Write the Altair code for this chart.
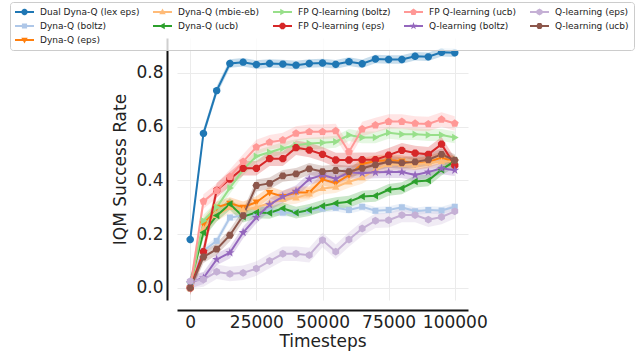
import math
import altair as alt
import pandas as pd

# ---------------- data ----------------
timesteps = [0, 5000, 10000, 15000, 20000, 25000, 30000, 35000, 40000, 45000, 50000,
             55000, 60000, 65000, 70000, 75000, 80000, 85000, 90000, 95000, 100000]

names = [
    "Dual Dyna-Q (lex eps)", "Dyna-Q (boltz)", "Dyna-Q (eps)", "Dyna-Q (mbie-eb)",
    "Dyna-Q (ucb)", "FP Q-learning (boltz)", "FP Q-learning (eps)", "FP Q-learning (ucb)",
    "Q-learning (boltz)", "Q-learning (eps)", "Q-learning (ucb)",
]

dual_dyna_q_lex_eps = [0.18, 0.575, 0.734, 0.835, 0.84, 0.831, 0.835, 0.833, 0.829, 0.835, 0.837,
                       0.832, 0.842, 0.834, 0.852, 0.85, 0.85, 0.862, 0.86, 0.877, 0.875]
dyna_q_boltz = [0.02, 0.138, 0.175, 0.262, 0.269, 0.275, 0.285, 0.28, 0.28, 0.288, 0.295,
                0.298, 0.29, 0.302, 0.287, 0.29, 0.30, 0.285, 0.29, 0.288, 0.302]
dyna_q_eps = [0.0, 0.237, 0.30, 0.315, 0.30, 0.319, 0.355, 0.34, 0.355, 0.355, 0.404,
              0.39, 0.42, 0.461, 0.472, 0.475, 0.472, 0.462, 0.469, 0.485, 0.469]
dyna_q_mbie_eb = [0.0, 0.22, 0.27, 0.30, 0.29, 0.30, 0.315, 0.33, 0.335, 0.35, 0.37,
                  0.375, 0.395, 0.41, 0.44, 0.46, 0.46, 0.46, 0.465, 0.47, 0.47]
dyna_q_ucb = [0.02, 0.206, 0.269, 0.312, 0.265, 0.281, 0.279, 0.296, 0.28, 0.29, 0.305,
              0.315, 0.321, 0.34, 0.343, 0.365, 0.371, 0.396, 0.40, 0.44, 0.472]
fp_q_boltz = [0.0, 0.25, 0.30, 0.372, 0.44, 0.49, 0.505, 0.52, 0.531, 0.537, 0.54,
              0.544, 0.569, 0.56, 0.56, 0.577, 0.572, 0.572, 0.569, 0.569, 0.56]
fp_q_eps = [0.0, 0.135, 0.363, 0.405, 0.445, 0.445, 0.481, 0.481, 0.522, 0.513, 0.497,
            0.476, 0.476, 0.477, 0.477, 0.494, 0.512, 0.502, 0.497, 0.535, 0.456]
fp_q_ucb = [0.0, 0.322, 0.362, 0.414, 0.47, 0.524, 0.542, 0.55, 0.575, 0.581, 0.581,
            0.584, 0.506, 0.591, 0.606, 0.619, 0.619, 0.612, 0.61, 0.627, 0.612]
q_boltz = [0.02, 0.037, 0.106, 0.131, 0.206, 0.262, 0.31, 0.34, 0.36, 0.405, 0.42,
           0.406, 0.43, 0.427, 0.43, 0.431, 0.431, 0.42, 0.431, 0.445, 0.438]
q_eps = [0.025, 0.031, 0.06, 0.052, 0.056, 0.072, 0.10, 0.127, 0.127, 0.122, 0.178,
         0.135, 0.18, 0.221, 0.25, 0.252, 0.271, 0.271, 0.254, 0.264, 0.285]
q_ucb = [0.0, 0.115, 0.144, 0.196, 0.269, 0.381, 0.389, 0.417, 0.424, 0.443, 0.433,
         0.437, 0.433, 0.445, 0.458, 0.469, 0.465, 0.469, 0.477, 0.497, 0.475]

series = [dual_dyna_q_lex_eps, dyna_q_boltz, dyna_q_eps, dyna_q_mbie_eb, dyna_q_ucb,
          fp_q_boltz, fp_q_eps, fp_q_ucb, q_boltz, q_eps, q_ucb]

# typical half-width of each shaded confidence band
band_halfwidth = [0.016, 0.014, 0.022, 0.022, 0.022, 0.022, 0.027, 0.027, 0.022, 0.027, 0.022]

colors = ["#1f77b4", "#aec7e8", "#ff7f0e", "#ffbb78", "#2ca02c", "#98df8a",
          "#d62728", "#ff9896", "#9467bd", "#c5b0d5", "#8c564b"]

x_ticks = [0, 25000, 50000, 75000, 100000]
y_ticks = [0.0, 0.2, 0.4, 0.6, 0.8]

# ---------------- marker shapes (style) ----------------
def _orient(pts):
    a = sum(pts[i][0] * pts[(i + 1) % len(pts)][1] - pts[(i + 1) % len(pts)][0] * pts[i][1]
            for i in range(len(pts)))
    return pts if a > 0 else pts[::-1]

def _path(pts):
    pts = _orient(pts)
    s = "M%.3f,%.3f" % pts[0]
    for p in pts[1:]:
        s += "L%.3f,%.3f" % p
    return s + "Z"

def _ngon(n, r, rot=0.0):
    return [(r * math.cos(rot + 2 * math.pi * k / n), r * math.sin(rot + 2 * math.pi * k / n))
            for k in range(n)]

def _star(ro, ri):
    pts = []
    for k in range(10):
        r = ro if k % 2 == 0 else ri
        a = -math.pi / 2 + math.pi * k / 5
        pts.append((r * math.cos(a), r * math.sin(a)))
    return pts

def marker_pts(kind, s):
    if kind == "circle":
        return _ngon(18, s)
    if kind == "square":
        return [(-0.8 * s, -0.8 * s), (0.8 * s, -0.8 * s), (0.8 * s, 0.8 * s), (-0.8 * s, 0.8 * s)]
    if kind == "tdown":
        return [(0, 1.05 * s), (-s, -0.7 * s), (s, -0.7 * s)]
    if kind == "tup":
        return [(0, -1.05 * s), (-s, 0.7 * s), (s, 0.7 * s)]
    if kind == "tleft":
        return [(-1.05 * s, 0), (0.7 * s, -s), (0.7 * s, s)]
    if kind == "tright":
        return [(1.05 * s, 0), (-0.7 * s, -s), (-0.7 * s, s)]
    if kind == "star":
        return _star(1.25 * s, 0.5 * s)
    if kind == "octagon":
        return _ngon(8, 1.05 * s, math.pi / 8)
    if kind == "pentagon":
        return _ngon(5, 1.1 * s, -math.pi / 2)
    if kind == "hexagon":
        return _ngon(6, 1.05 * s, -math.pi / 2)
    return _ngon(6, 1.05 * s, 0)

kinds = ["circle", "square", "tdown", "tup", "tleft", "tright",
         "octagon", "pentagon", "star", "hexagon", "hexagon2"]

plot_shapes = [_path(marker_pts(k, 0.95)) for k in kinds]
legend_line = "M-1,-0.1L1,-0.1L1,0.1L-1,0.1Z"
legend_shapes = [legend_line + _path(marker_pts(k, 0.34)) for k in kinds]

# legend laid out row-major to mimic a 5-column column-major legend
legend_order = [0, 3, 5, 7, 9, 1, 4, 6, 8, 10, 2]
domain = [names[i] for i in legend_order]
color_range = [colors[i] for i in legend_order]
shape_range = [plot_shapes[i] for i in legend_order]

rows = []
for name, vals, hw in zip(names, series, band_halfwidth):
    for t, v in zip(timesteps, vals):
        rows.append({"t": t, "v": v, "lo": v - hw, "hi": v + hw, "name": name})
df = pd.DataFrame(rows)

names_js = "[" + ",".join("'%s'" % n for n in names) + "]"
shapes_js = "[" + ",".join("'%s'" % p for p in legend_shapes) + "]"
shape_expr = "%s[indexof(%s, datum.value)]" % (shapes_js, names_js)

FONT = "DejaVu Sans"

x = alt.X("t:Q", scale=alt.Scale(domain=[-5000, 105000], nice=False, zero=False),
          axis=alt.Axis(values=x_ticks, format="d", title="Timesteps", offset=10,
                        grid=True, ticks=False, tickSize=0, labelPadding=4,
                        titlePadding=3, labelFlush=False))
y = alt.Y("v:Q", scale=alt.Scale(domain=[-0.045, 0.93], nice=False, zero=False),
          axis=alt.Axis(values=y_ticks, format=".1f", title="IQM Success Rate", offset=10,
                        grid=True, ticks=False, tickSize=0, labelPadding=4,
                        titlePadding=6, labelFlush=False))

cscale = alt.Scale(domain=domain, range=color_range)

legend = alt.Legend(
    title=None, orient="none", legendX=-167, legendY=-36, columns=5,
    direction="horizontal",
    symbolType=alt.ExprRef(expr=shape_expr),
    symbolSize=361, symbolStrokeWidth=0, labelOffset=6,
    labelFont=FONT, labelFontSize=9, labelColor="#222",
    columnPadding=13, rowPadding=4, clipHeight=10,
    padding=5, fillColor="rgba(255,255,255,0.8)", strokeColor="#cccccc",
    cornerRadius=3, symbolOpacity=1)

base = alt.Chart(df)

band = base.mark_area(opacity=0.25).encode(
    x=x, y=alt.Y("lo:Q"), y2="hi:Q",
    color=alt.Color("name:N", scale=cscale, legend=None),
    detail="name:N")

line = base.mark_line(strokeWidth=2).encode(
    x=x, y=y, color=alt.Color("name:N", scale=cscale, legend=None))

pts = base.mark_point(filled=True, opacity=1, size=62).encode(
    x=x, y=y,
    color=alt.Color("name:N", scale=cscale, legend=None),
    shape=alt.Shape("name:N", scale=alt.Scale(domain=domain, range=shape_range), legend=None))

# empty layer that only carries the legend (line + marker symbols)
leg = base.transform_filter(alt.datum.t < 0).mark_point(filled=True).encode(
    x=x, y=y, color=alt.Color("name:N", scale=cscale, legend=legend))

chart = alt.layer(band, line, pts, leg).resolve_legend(
    color="independent", shape="independent"
).properties(
    width=291, height=262,
    autosize=alt.AutoSizeParams(type="none"),
    padding={"left": 177, "top": 38, "right": 169, "bottom": 54},
).configure_view(stroke=None).configure_axis(
    labelFont=FONT, titleFont=FONT, labelFontSize=17, titleFontSize=17,
    labelColor="#222", titleColor="#222", titleFontWeight="normal",
    domainColor="#111", domainWidth=2, gridColor="#ebebeb", gridWidth=1,
)

chart.save("out.html", embed_options={"renderer": "svg", "actions": False})
